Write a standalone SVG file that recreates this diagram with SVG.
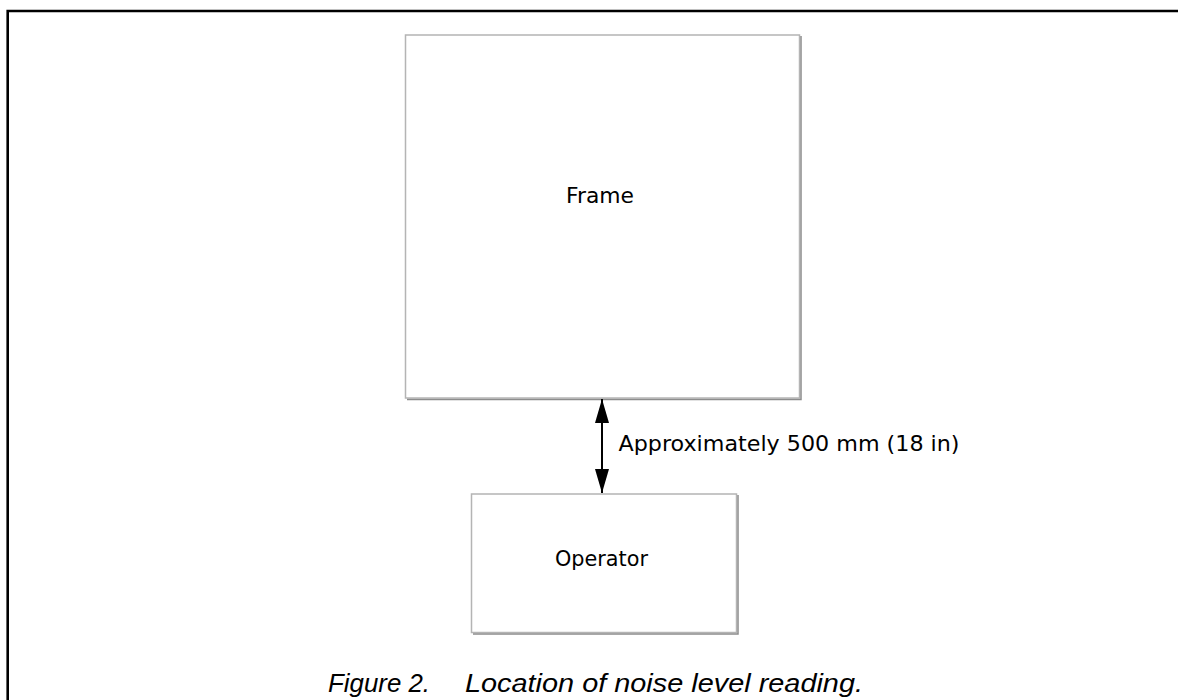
<svg xmlns="http://www.w3.org/2000/svg" width="1178" height="700" viewBox="0 0 1178 700">
  <defs>
    <marker id="head" viewBox="0 0 24 14" refX="24" refY="7" markerWidth="24" markerHeight="14" markerUnits="userSpaceOnUse" orient="auto-start-reverse">
      <path d="M0,0 L24,7 L0,14 Z" fill="#000"/>
    </marker>
  </defs>
  <style>
    .box { fill: #fff; stroke: #b4b4b4; stroke-width: 1.5; }
    .shadow { fill: none; stroke: #8c8c8c; stroke-width: 1.5; }
    .label { font-family: "DejaVu Sans", "Liberation Sans", sans-serif; font-size: 22px; fill: #000; }
    .caption { font-family: "Liberation Sans", Arial, sans-serif; font-style: italic; font-size: 26px; fill: #000; }
    .conn { stroke: #000; stroke-width: 2; fill: none; }
  </style>
  <rect width="1178" height="700" fill="#fff"/>
  <path d="M7.7,700 V11 H1178" fill="none" stroke="#000" stroke-width="2.6"/>

  <g id="frame">
    <rect class="box" x="405.5" y="35" width="394" height="363"/>
    <path class="shadow" d="M801,36 V399.5 H407"/>
    <text class="label" x="600" y="203" text-anchor="middle" textLength="68" lengthAdjust="spacingAndGlyphs">Frame</text>
  </g>

  <g id="operator">
    <rect class="box" x="471.5" y="494" width="265" height="138.5"/>
    <path class="shadow" d="M738,495 V634 H473"/>
    <text class="label" x="601.5" y="566" text-anchor="middle" textLength="93" lengthAdjust="spacingAndGlyphs">Operator</text>
  </g>

  <g id="connectors">
    <line class="conn" x1="602" y1="399" x2="602" y2="493" marker-start="url(#head)" marker-end="url(#head)"/>
    <text class="label" x="618.5" y="451" textLength="341" lengthAdjust="spacingAndGlyphs">Approximately 500 mm (18 in)</text>
  </g>

  <g id="caption">
    <text class="caption" x="328" y="692" textLength="102" lengthAdjust="spacingAndGlyphs">Figure 2.</text>
    <text class="caption" x="465" y="692" textLength="398" lengthAdjust="spacingAndGlyphs">Location of noise level reading.</text>
  </g>
</svg>
